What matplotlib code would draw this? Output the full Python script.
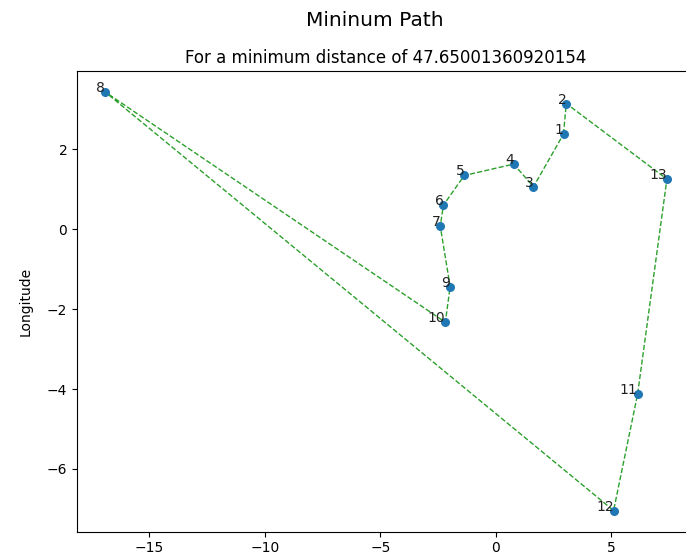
import numpy as np
import matplotlib
matplotlib.use("Agg")
import matplotlib.pyplot as plt

# city coordinates (x = latitude, y = longitude)
cities = ["1", "2", "3", "4", "5", "6", "7", "8", "9", "10", "11", "12", "13"]
lat = [2.94, 3.06, 1.64, 0.78, -1.36, -2.26, -2.40, -16.92, -1.97, -2.18, 6.15, 5.11, 7.42]
lon = [2.375, 3.14, 1.06, 1.625, 1.34, 0.60, 0.075, 3.43, -1.44, -2.33, -4.13, -7.04, 1.25]

# best tour found (city numbers), closed back to the start
tour = [1, 2, 13, 11, 12, 8, 10, 9, 7, 6, 5, 4, 3, 1]
min_distance = 47.65001360920154

lat = np.array(lat)
lon = np.array(lon)
idx = np.array(tour) - 1

fig = plt.figure(figsize=(6.86, 5.6), dpi=100)
# the original figure is cropped on the right and at the bottom
ax = fig.add_axes([77 / 686, 28.5 / 560, 618 / 686, 460.5 / 560])

ax.plot(lat[idx], lon[idx], color="#2ca02c", linestyle="--", linewidth=1, zorder=2)
ax.scatter(lat, lon, s=30, color="#1f77b4", zorder=3)
for name, x, y in zip(cities, lat, lon):
    ax.text(x, y, name, ha="right", fontsize=10, color="#222222", zorder=4)

# suptitle centred on the uncropped figure, so a bit right of this canvas' middle
fig.suptitle("Mininum Path", fontsize=14.5, x=0.547)
ax.set_title(f"For a minimum distance of {min_distance}", fontsize=12)
ax.set_ylabel("Longitude", labelpad=10)

fig.savefig("out.png", dpi=100)
